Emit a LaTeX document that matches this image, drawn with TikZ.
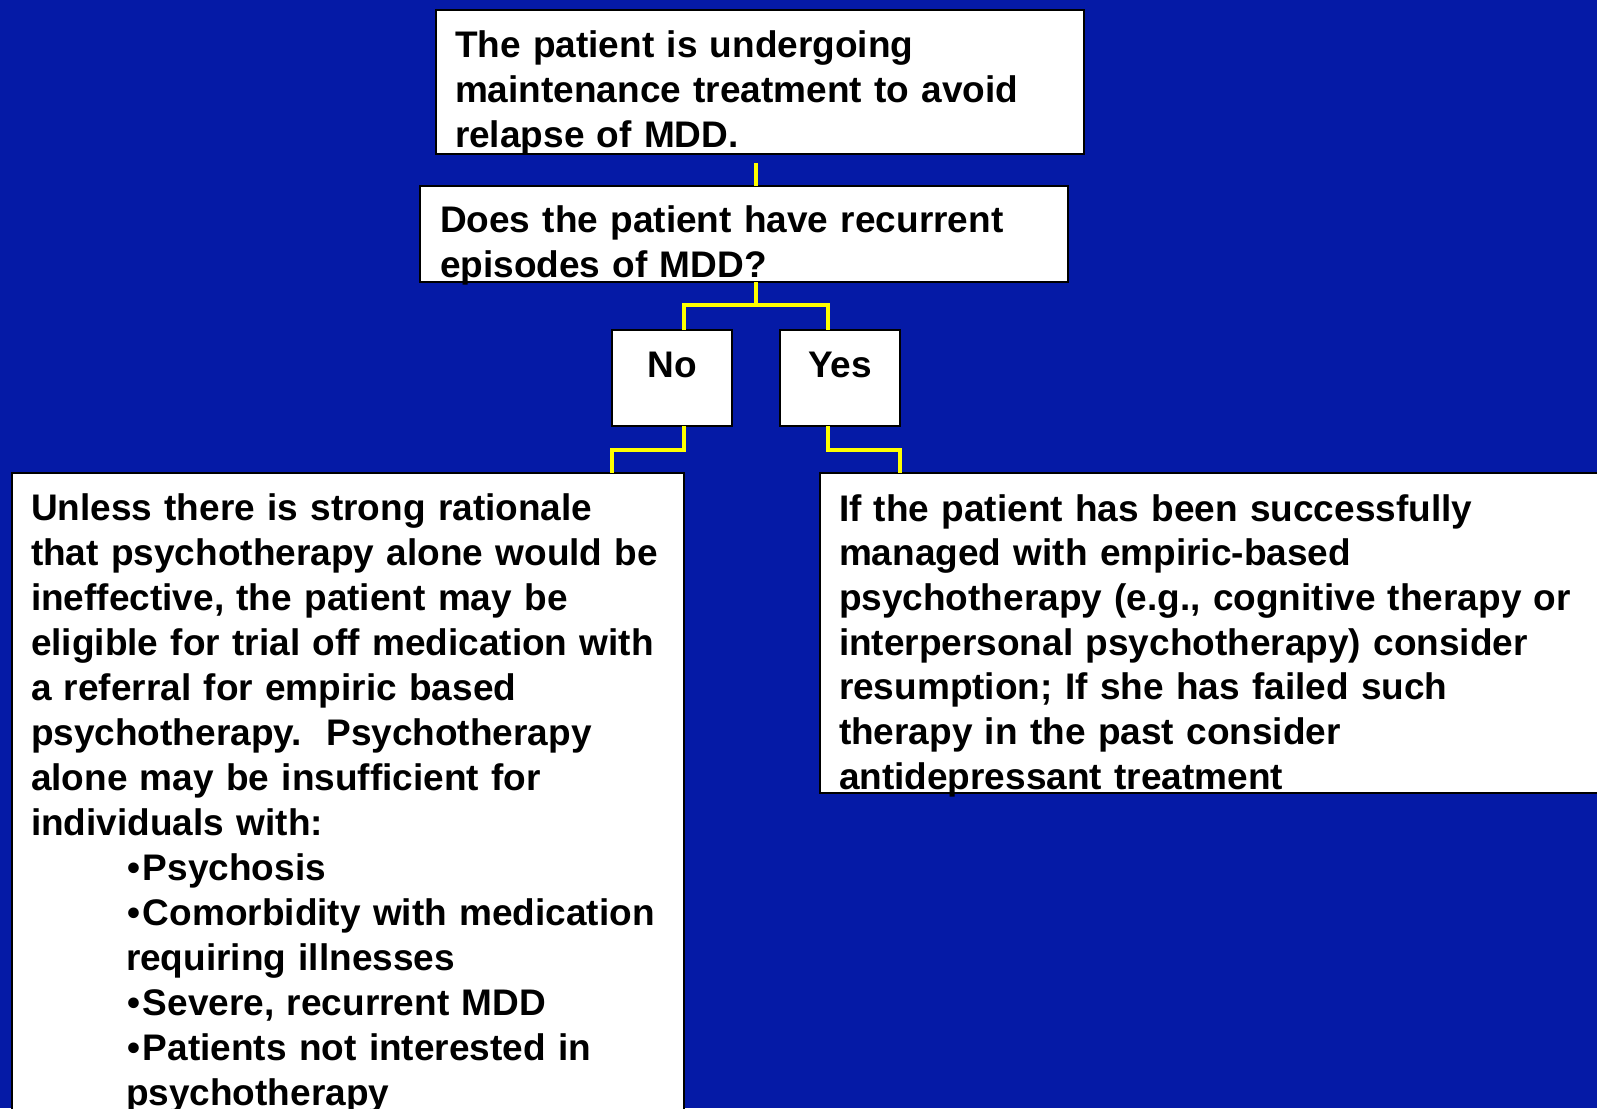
\documentclass[tikz,border=0pt]{standalone}
\usepackage{fontspec}
\setmainfont{Liberation Sans}
\definecolor{bgblue}{RGB}{5,26,166}
\definecolor{lineyel}{RGB}{255,255,0}
\newcommand{\bul}{•\hspace{3pt}}
\begin{document}
\begin{tikzpicture}[x=1pt,y=-1pt,
  box/.style={draw=black, fill=white, line width=1.5pt, inner sep=0pt, outer sep=0pt, anchor=north west},
  txt/.style={anchor=base west, inner sep=0pt, outer sep=0pt, align=left, text width=#1,
    font=\fontsize{37}{45}\selectfont\bfseries\frenchspacing},
  lbl/.style={anchor=base, inner sep=0pt, font=\fontsize{37}{45}\selectfont\bfseries},
  conn/.style={draw=lineyel, line width=3.2pt}]
\fill[bgblue] (0,0) rectangle (1597,1108);
\useasboundingbox (0,0) rectangle (1597,1108);
\begin{scope}
\clip (0,0) rectangle (1597,1108);
% boxes
\node[box, minimum width=648pt, minimum height=144pt] (top) at (436,10) {};
\node[box, minimum width=648pt, minimum height=96pt] (q) at (420,186) {};
\node[box, minimum width=120pt, minimum height=96pt] (no) at (612,330) {};
\node[box, minimum width=120pt, minimum height=96pt] (yes) at (780,330) {};
\node[box, minimum width=672pt, minimum height=660pt] (left) at (12,473) {};
\node[box, minimum width=800pt, minimum height=320pt] (right) at (820,473) {};
% texts
\node[txt=640pt] (toptxt) at ([xshift=19pt,yshift=-47pt]top.north west)
  {The patient is undergoing\\maintenance treatment to avoid\\relapse of MDD.};
\node[txt=640pt] (qtxt) at ([xshift=20pt,yshift=-46pt]q.north west)
  {Does the patient have recurrent\\episodes of MDD?};
\node[lbl] (notxt) at ([yshift=-47pt]no.north) {No};
\node[lbl] (yestxt) at ([yshift=-47pt]yes.north) {Yes};
\node[txt=660pt] (lefttxt) at ([xshift=19pt,yshift=-47pt]left.north west)
  {Unless there is strong rationale\\
   that psychotherapy alone would be\\
   ineffective, the patient may be\\
   eligible for trial off medication with\\
   a referral for empiric based\\
   psychotherapy.\ \ Psychotherapy\\
   alone may be insufficient for\\
   individuals with:\\
   \hspace*{96pt}\bul Psychosis\\
   \hspace*{96pt}\bul Comorbidity with medication\\
   \hspace*{95pt}requiring illnesses\\
   \hspace*{96pt}\bul Severe, recurrent MDD\\
   \hspace*{96pt}\bul Patients not interested in\\
   \hspace*{95pt}psychotherapy};
\node[txt=760pt, font=\fontsize{37}{44.7}\selectfont\bfseries\frenchspacing] (righttxt) at ([xshift=19pt,yshift=-48pt]right.north west)
  {If the patient has been successfully\\
   managed with empiric-based\\
   psychotherapy (e.g., cognitive therapy or\\
   interpersonal psychotherapy) consider\\
   resumption; If she has failed such\\
   therapy in the past consider\\
   antidepressant treatment};
% connectors
\coordinate (jq) at (756,305);
\coordinate (jn) at (684,305);
\coordinate (jy) at (828,305);
\coordinate (kn) at (684,450);
\coordinate (ky) at (828,450);
\draw[conn] ([yshift=-9pt]top.south -| jq) -- (jq |- q.north);
\draw[conn] (jq |- q.south) -- (jq);
\draw[conn] (jn |- no.north) -- (jn) -- (jy) -- (jy |- yes.north);
\draw[conn] (kn |- no.south) -- (kn) -| (left.north -| no.west);
\draw[conn] (ky |- yes.south) -- (ky) -| (right.north -| yes.east);
\end{scope}
\end{tikzpicture}
\end{document}
